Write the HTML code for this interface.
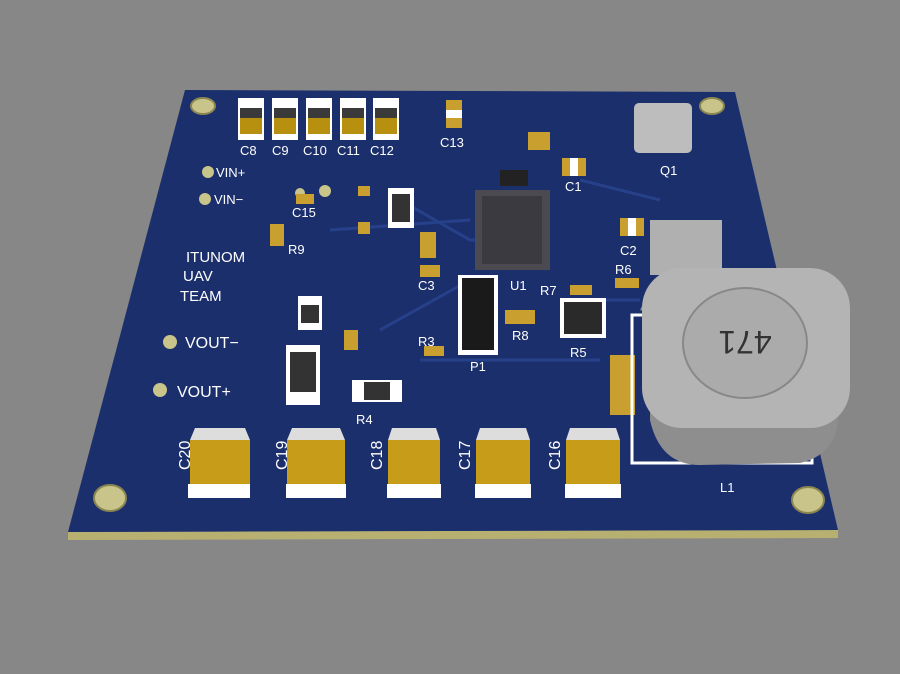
<!DOCTYPE html>
<html><head><meta charset="utf-8"><style>
html,body{margin:0;padding:0;background:#878787;}
svg{display:block}
text{font-family:"Liberation Sans",sans-serif;fill:#fff}
</style></head><body>
<svg width="900" height="674" viewBox="0 0 900 674" xmlns="http://www.w3.org/2000/svg">
<rect width="900" height="674" fill="#878787"/>
<!-- board edge -->
<polygon points="68,532 838,530 838,538 68,540" fill="#b8b070"/>
<polygon points="185,90 735,92 838,530 68,532" fill="#1b2f6c"/>
<!-- traces -->
<g stroke="#27408a" stroke-width="3" fill="none">
<path d="M400,200 L470,240 L540,240"/><path d="M380,330 L470,280"/><path d="M560,300 L640,300"/>
<path d="M420,360 L600,360"/><path d="M580,180 L660,200"/><path d="M330,230 L470,220"/>
</g>
<!-- mounting holes -->
<g fill="#c9c48a" stroke="#8a8650" stroke-width="2">
<ellipse cx="203" cy="106" rx="12" ry="8"/><ellipse cx="712" cy="106" rx="12" ry="8"/>
<ellipse cx="110" cy="498" rx="16" ry="13"/><ellipse cx="808" cy="500" rx="16" ry="13"/>
</g>
<g fill="#c9c48a">
<circle cx="208" cy="172" r="6"/><circle cx="205" cy="199" r="6"/><circle cx="170" cy="342" r="7"/><circle cx="160" cy="390" r="7"/>
<circle cx="300" cy="193" r="5"/><circle cx="325" cy="191" r="6"/>
</g>
<!-- top small caps C8..C12 -->
<g>
<rect x="238" y="98" width="26" height="42" fill="#fff"/><rect x="240" y="108" width="22" height="24" fill="#3a3a3a"/><rect x="240" y="118" width="22" height="16" fill="#b8900f"/>
<rect x="272" y="98" width="26" height="42" fill="#fff"/><rect x="274" y="108" width="22" height="24" fill="#3a3a3a"/><rect x="274" y="118" width="22" height="16" fill="#b8900f"/>
<rect x="306" y="98" width="26" height="42" fill="#fff"/><rect x="308" y="108" width="22" height="24" fill="#3a3a3a"/><rect x="308" y="118" width="22" height="16" fill="#b8900f"/>
<rect x="340" y="98" width="26" height="42" fill="#fff"/><rect x="342" y="108" width="22" height="24" fill="#3a3a3a"/><rect x="342" y="118" width="22" height="16" fill="#b8900f"/>
<rect x="373" y="98" width="26" height="42" fill="#fff"/><rect x="375" y="108" width="22" height="24" fill="#3a3a3a"/><rect x="375" y="118" width="22" height="16" fill="#b8900f"/>
<rect x="446" y="100" width="16" height="28" fill="#c9a030"/><rect x="446" y="110" width="16" height="8" fill="#fff"/>
</g>
<g font-size="13">
<text x="240" y="155">C8</text><text x="272" y="155">C9</text><text x="303" y="155">C10</text><text x="337" y="155">C11</text><text x="370" y="155">C12</text>
<text x="440" y="147">C13</text>
<text x="216" y="177">VIN+</text><text x="214" y="204">VIN−</text>
<text x="292" y="217">C15</text><text x="288" y="254">R9</text>
<text x="186" y="262" font-size="15">ITUNOM</text><text x="183" y="281" font-size="15">UAV</text><text x="180" y="301" font-size="15">TEAM</text>
<text x="185" y="348" font-size="16">VOUT−</text><text x="177" y="397" font-size="16">VOUT+</text>
<text x="356" y="424">R4</text><text x="418" y="346">R3</text><text x="418" y="290">C3</text>
<text x="470" y="371">P1</text><text x="512" y="340">R8</text><text x="570" y="357">R5</text>
<text x="510" y="290">U1</text><text x="540" y="295">R7</text><text x="512" y="202">D1</text><text x="565" y="191">C1</text>
<text x="620" y="255">C2</text><text x="615" y="274">R6</text><text x="660" y="175">Q1</text><text x="720" y="492">L1</text>
<text x="264" y="375" transform="rotate(-90 280 360)">C6</text>
</g>
<!-- misc small parts -->
<g>
<rect x="270" y="224" width="14" height="22" fill="#c9a030"/><rect x="296" y="194" width="18" height="10" fill="#c9a030"/>
<rect x="358" y="186" width="12" height="10" fill="#c9a030"/><rect x="358" y="222" width="12" height="12" fill="#c9a030"/>
<rect x="388" y="188" width="26" height="40" fill="#fff"/><rect x="392" y="194" width="18" height="28" fill="#333"/>
<rect x="420" y="232" width="16" height="26" fill="#c9a030"/><rect x="420" y="265" width="20" height="12" fill="#c9a030"/>
<rect x="298" y="296" width="24" height="34" fill="#fff"/><rect x="301" y="305" width="18" height="18" fill="#333"/>
<rect x="344" y="330" width="14" height="20" fill="#c9a030"/>
<rect x="286" y="345" width="34" height="60" fill="#fff"/><rect x="290" y="352" width="26" height="40" fill="#333"/>
<rect x="352" y="380" width="50" height="22" fill="#fff"/><rect x="364" y="382" width="26" height="18" fill="#333"/>
<rect x="424" y="346" width="20" height="10" fill="#c9a030"/>
<rect x="458" y="275" width="40" height="80" fill="#fff"/><rect x="462" y="278" width="32" height="72" fill="#1a1a1a"/>
<rect x="475" y="190" width="75" height="80" fill="#4a4a50"/><rect x="482" y="196" width="60" height="68" fill="#3a3a40"/>
<rect x="500" y="170" width="28" height="16" fill="#222"/>
<rect x="528" y="132" width="22" height="18" fill="#c9a030"/><rect x="562" y="158" width="24" height="18" fill="#c9a030"/><rect x="570" y="158" width="8" height="18" fill="#fff"/>
<rect x="620" y="218" width="24" height="18" fill="#c9a030"/><rect x="628" y="218" width="8" height="18" fill="#fff"/>
<rect x="615" y="278" width="24" height="10" fill="#c9a030"/><rect x="570" y="285" width="22" height="10" fill="#c9a030"/>
<rect x="505" y="310" width="30" height="14" fill="#c9a030"/>
<rect x="560" y="298" width="46" height="40" fill="#fff"/><rect x="564" y="302" width="38" height="32" fill="#2a2a2a"/>
<rect x="634" y="103" width="58" height="50" rx="5" fill="#bdbdbd"/>
<rect x="650" y="220" width="72" height="55" fill="#b0b0b0"/>
<rect x="610" y="355" width="25" height="60" fill="#c9a030"/>
<rect x="632" y="315" width="180" height="148" fill="none" stroke="#fff" stroke-width="3"/>
</g>
<!-- big caps -->
<g>
<polygon points="195,428 245,428 250,440 190,440" fill="#ddd"/><rect x="190" y="440" width="60" height="46" fill="#c79c18"/><rect x="188" y="484" width="62" height="14" fill="#fff"/>
<polygon points="292,428 340,428 345,440 287,440" fill="#ddd"/><rect x="287" y="440" width="58" height="46" fill="#c79c18"/><rect x="286" y="484" width="60" height="14" fill="#fff"/>
<polygon points="392,428 436,428 440,440 388,440" fill="#ddd"/><rect x="388" y="440" width="52" height="46" fill="#c79c18"/><rect x="387" y="484" width="54" height="14" fill="#fff"/>
<polygon points="480,428 526,428 530,440 476,440" fill="#ddd"/><rect x="476" y="440" width="54" height="46" fill="#c79c18"/><rect x="475" y="484" width="56" height="14" fill="#fff"/>
<polygon points="570,428 616,428 620,440 566,440" fill="#ddd"/><rect x="566" y="440" width="54" height="46" fill="#c79c18"/><rect x="565" y="484" width="56" height="14" fill="#fff"/>
</g>
<g font-size="16">
<text x="0" y="0" transform="translate(190,470) rotate(-90)">C20</text>
<text x="0" y="0" transform="translate(287,470) rotate(-90)">C19</text>
<text x="0" y="0" transform="translate(382,470) rotate(-90)">C18</text>
<text x="0" y="0" transform="translate(470,470) rotate(-90)">C17</text>
<text x="0" y="0" transform="translate(560,470) rotate(-90)">C16</text>
</g>
<!-- inductor -->
<path d="M640,310 L650,290 L650,420 Q660,465 700,465 L800,463 Q835,455 838,420 L838,380 Z" fill="#8e8e8e"/>
<rect x="642" y="268" width="208" height="160" rx="40" fill="#b4b4b4"/>
<ellipse cx="745" cy="343" rx="62" ry="55" fill="#ababab" stroke="#888" stroke-width="2"/>
<text x="745" y="355" font-size="32" fill="#333" style="fill:#333" text-anchor="middle" transform="rotate(180 745 343)">471</text>
</svg>
</body></html>
